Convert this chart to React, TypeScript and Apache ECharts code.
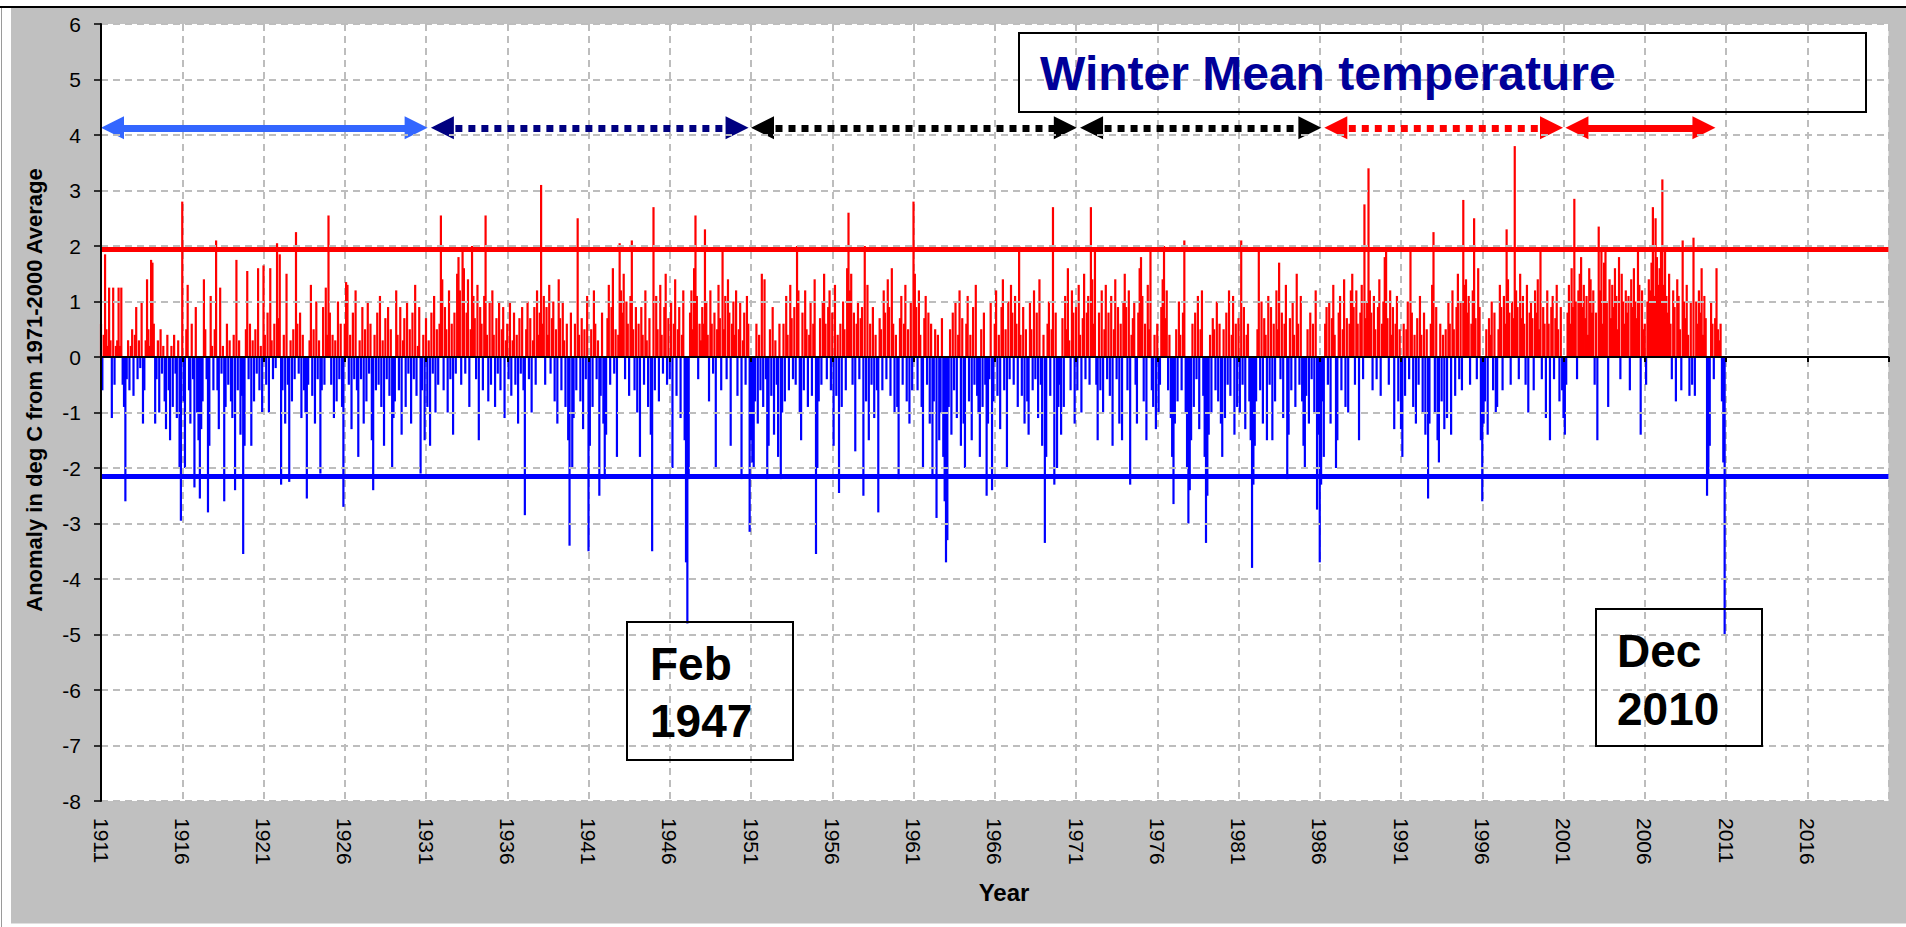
import React, { useEffect, useRef } from "react";
import * as echarts from "echarts";

// ---------- data (monthly anomalies, deg C, Jan..Dec per row) ----------
const START_YEAR = 1911;
const MONTHS_PER_YEAR = 12;

const d1911 = [
  0.6, -0.6, 0.4, 1.85, 0.5, 0.2, 1.25, 0.3, -1.1, 1.25, -0.5, 0.2,
  0.3, 1.25, 0.2, 1.25, -0.5, -0.9, -2.6, -0.4, 0.3, -0.6, 0.2, 0.5,
  -0.7, 0.4, 0.9, -0.4, 0.3, -0.2, 1.0, -1.2, -0.6, 0.3, 1.4, 0.5,
  0.2, 1.75, 1.7, 0.6, -1.2, -0.4, 0.3, -1.0, 0.5, -0.3, 0.2, -0.8,
  -1.3, 0.4, -0.6, -1.5, 0.2, -0.9, 0.4, -0.3, -1.1, 0.3, -2.0, -2.95,
  2.8, -0.8, -2.0, 0.5, 1.3, -0.6, -1.2, 0.6, -0.4, -2.35, 0.9, -1.0,
  -1.5, -2.55, -1.3, -0.8, 1.4, 0.5, -0.4, -2.8, -1.6, 1.1, 0.2, -0.6,
  0.5, 2.1, -0.6, -1.3, 1.25, -0.3, 0.2, -2.6, -0.9, 0.6, -0.5, 0.3,
  -0.8, -1.1, 0.4, -2.4, 1.75, -0.6, 0.3, -1.4, -0.7, -3.55, -1.6, 0.5,
  1.55, -0.4, 0.6, -1.6, 0.3, -0.8, 0.5, -0.3, 1.6, -0.6, 0.2, -1.0,
];
const d1921 = [
  1.65, 0.4, -0.5, 0.8, -1.0, 1.6, 0.3, -0.4, 0.6, -0.2, 2.05, 0.7,
  1.85, -2.3, -0.6, 0.4, -1.2, 1.5, -0.5, -2.25, 0.3, -0.8, 0.5, -0.4,
  2.25, 0.6, -0.3, 0.8, -1.1, 0.4, -0.6, -1.0, -2.55, -0.5, 0.3, 1.3,
  -0.7, 0.5, -1.2, 1.0, -0.4, 0.3, -2.1, -0.6, 0.9, -0.5, 1.25, 0.4,
  2.55, 0.8, -0.5, 0.4, -1.1, 0.3, -0.8, 1.0, -0.4, 0.6, -0.9, -2.7,
  0.6, 1.35, 1.3, -0.5, 0.4, -1.3, 0.8, -0.4, 1.2, -0.6, -1.8, 0.3,
  -0.4, 0.9, -1.2, 0.5, -0.8, 1.0, -0.3, 0.6, -1.5, -2.4, 0.4, -0.6,
  0.8, -0.5, 1.1, -0.9, 0.3, -1.6, 0.7, -0.4, 0.9, -0.7, 0.5, -2.0,
  -1.1, -0.8, 1.2, 0.4, -0.6, 0.9, -1.4, 0.3, 0.7, -0.9, 1.0, -0.3,
  0.5, -1.2, 0.8, -0.4, 1.3, -0.7, 0.2, 0.9, -2.1, -0.6, 0.4, -1.5,
];
const d1931 = [
  0.7, -0.9, 0.3, -1.6, 0.8, -0.3, 1.1, -1.0, 0.5, -0.5, 0.6, 2.55,
  1.4, -0.6, 0.9, 0.5, -1.0, 1.2, -0.4, 0.6, -1.4, 0.8, -0.3, 1.5,
  1.8, 1.2, -0.5, 1.9, 1.6, -0.3, 0.8, 1.4, -0.9, 0.5, 2.0, 1.1,
  0.7, -0.4, 1.3, -1.5, 0.9, 0.6, -0.6, 1.1, 2.55, 0.4, -0.8, 1.0,
  -0.5, 1.2, 0.4, -0.9, 0.7, -0.3, 1.0, -0.6, 0.5, 0.9, -1.1, 0.3,
  0.6, -0.4, 1.0, -0.7, 0.3, 0.8, -0.5, 0.4, -1.2, 0.7, -0.3, 0.9,
  -0.6, -2.85, 0.5, 1.0, -0.4, 0.7, -1.0, 0.3, 0.9, -0.5, 1.2, 0.4,
  0.8, 3.1, 0.6, 1.1, -0.5, 0.9, 0.4, 1.3, -0.3, 0.7, 1.0, -0.8,
  0.5, -1.2, 1.4, 0.7, -0.6, 1.0, 0.3, -0.9, 0.6, -1.5, -3.4, 0.8,
  -2.0, -1.1, 0.6, -0.6, 2.5, 0.4, -0.8, 0.7, -1.3, 0.5, -0.4, 1.1,
];
const d1941 = [
  -3.5, -1.6, 0.5, -0.9, 1.2, 0.6, -0.4, 0.3, -2.5, -0.7, 0.8, -1.2,
  -2.2, -1.4, 0.7, 1.3, -0.5, 0.9, 1.6, -0.3, 0.5, -1.8, 0.4, 2.05,
  1.2, 0.8, 1.5, -0.4, 1.0, 0.6, -0.7, 1.1, 2.1, 0.5, -0.6, 0.9,
  -1.0, 0.6, -1.8, 0.9, 0.4, -0.5, 1.2, 0.3, -0.9, 0.7, -1.4, -3.5,
  2.7, -0.6, 1.1, 0.5, -0.8, 1.3, 0.4, -0.3, 0.9, 1.5, -0.5, 0.7,
  -0.4, 1.0, -2.0, 0.6, 1.4, -0.7, 0.5, 0.9, -1.1, 0.4, 1.2, -1.5,
  -3.7, -4.8, -2.2, 0.8, 1.2, 0.5, 1.6, 2.55, 1.1, -0.4, 0.6, 0.3,
  0.9, 0.6, 2.3, 1.0, 0.4, -0.8, 1.2, 0.6, -0.3, 0.8, -2.0, 0.5,
  1.3, 0.7, -0.6, 1.9, 0.5, 1.1, -0.4, 1.4, 0.8, -1.6, 0.6, 1.0,
  0.4, 1.2, -0.7, 0.5, 1.0, -2.2, 0.3, 0.8, -0.5, 1.1, 0.6, -3.15,
];
const d1951 = [
  -1.5, -1.9, -2.0, -0.8, 0.6, -1.2, 0.4, -0.6, 1.5, -0.9, 1.4, -0.4,
  -2.2, -1.6, 0.5, -0.7, 0.9, -1.4, 0.3, -0.5, -1.8, 0.6, -2.2, -1.0,
  0.6, -0.8, 1.1, 0.4, -0.6, 1.3, 0.7, -0.4, 0.9, -0.5, 2.0, 1.2,
  -1.0, -1.5, 0.8, -0.6, 1.2, 0.5, -0.9, 0.4, 1.0, -0.7, 0.6, 1.4,
  -3.55, -2.0, -0.8, 0.7, -0.5, 1.0, 1.5, 0.6, -0.4, 0.9, 1.2, -0.6,
  0.8, -1.6, 1.3, -0.7, 0.4, -2.45, 0.6, -0.9, 1.0, 0.5, -0.6, 1.6,
  2.6, 1.2, 1.5, -0.5, 0.8, -1.7, 0.6, 1.0, -0.4, 0.7, 0.9, -2.5,
  2.0, -0.8, 1.3, -1.5, 0.6, -0.5, 0.9, -1.1, 0.4, -0.6, -2.8, 0.7,
  0.5, -0.6, 1.2, 0.8, -0.4, 1.4, 0.9, -0.7, 1.6, 0.6, -1.0, 0.4,
  -0.9, -2.2, 0.7, 1.1, -0.5, 0.6, 1.3, -0.8, 0.5, -1.2, 1.0, -0.6,
];
const d1961 = [
  2.8, 1.5, 0.9, -0.6, 1.2, 0.4, -0.9, -2.0, 0.7, 1.1, -0.5, 0.8,
  -1.2, 0.6, -2.2, -0.8, 0.5, -2.9, 0.4, -1.5, -1.0, 0.7, -1.8, -2.6,
  -3.7, -3.3, -0.9, 0.5, -1.4, 0.8, -0.6, 1.0, -1.1, 0.4, 1.2, -1.6,
  0.7, -1.2, -2.0, 0.6, 1.1, -0.8, 0.4, -1.5, 0.9, -0.5, 1.3, -0.7,
  -1.0, -1.8, 0.5, -0.9, 0.8, -0.5, -2.5, -1.2, -0.4, 1.0, -2.4, -0.8,
  0.6, 1.2, -0.7, 0.4, -1.3, 0.9, 1.4, -0.6, 0.5, -2.0, 1.0, -0.4,
  1.3, 0.8, -0.5, 1.1, 0.6, -0.9, 2.0, 0.4, -0.7, 0.9, -1.2, 0.5,
  -0.8, -1.4, 1.0, 0.5, -0.6, 1.2, -0.4, 0.8, -1.1, 1.4, -0.5, -1.6,
  0.4, -3.35, -1.8, 0.6, 1.0, -0.7, 0.5, 2.7, -2.3, 0.8, -2.0, -0.9,
  -0.5, -1.4, 0.7, -0.9, 1.1, 0.5, 1.6, 0.3, -0.6, 1.2, 0.8, -1.2,
];
const d1971 = [
  0.9, -0.6, 1.3, 0.4, -1.0, 0.7, 1.5, -0.4, 0.8, 1.1, -0.5, 2.7,
  1.4, 0.6, 1.9, -0.5, -1.5, 0.8, -0.6, 1.2, -1.0, 0.5, 1.3, -0.4,
  0.8, -0.7, 1.1, -1.6, 0.5, 1.4, -0.4, 0.9, -1.2, 0.6, -1.5, 1.0,
  1.5, 0.9, -0.6, 1.2, -2.3, 0.4, 0.7, 1.0, -0.5, -1.2, 0.8, 1.6,
  1.8, 1.1, -0.8, 0.6, -1.5, 1.3, 0.5, 1.9, -0.6, -0.9, 0.4, -1.3,
  0.6, -1.0, -0.5, 0.9, 1.4, 2.0, 0.7, 1.2, -0.6, 0.4, -1.1, -1.8,
  -2.65, -1.2, 0.5, -0.8, 1.0, 0.4, -0.6, 0.8, 2.1, -1.0, -2.0, -3.0,
  -2.4, -1.5, 0.6, -0.9, 0.8, -0.4, 1.1, -1.3, 0.5, 1.2, -0.7, -1.8,
  -3.35, -2.5, -1.4, 0.4, -1.0, 0.7, 0.5, -0.6, 1.0, -0.8, 0.6, -1.2,
  -1.8, 0.5, -1.1, 0.8, -0.5, 1.2, -0.7, 0.4, 1.1, -1.4, 0.6, -0.9,
];
const d1981 = [
  0.7, -1.0, 2.1, -0.5, 0.9, -1.3, 0.4, 0.6, -0.8, -1.5, -3.8, -2.3,
  -1.6, -0.8, 0.5, 2.0, -0.6, 1.0, -1.2, 0.7, 0.4, -1.5, 1.1, -0.5,
  0.9, -1.5, 0.6, -0.8, 1.2, 0.5, 1.7, -0.4, 0.8, -1.1, 0.6, 1.3,
  -2.2, -1.4, 0.7, -0.6, 1.0, 0.4, -0.9, 1.5, 0.6, -0.5, 1.1, -0.8,
  -1.6, -2.0, -0.7, 0.5, -1.2, 0.8, -0.4, 0.6, -1.0, 1.2, -2.75, -1.4,
  -3.7, -2.3, -0.8, -1.8, 0.6, 0.9, -0.5, 1.0, -1.2, 0.7, 1.3, 0.4,
  -2.0, -1.5, 0.8, 1.1, -0.6, 0.5, 1.4, -0.9, 0.7, -1.0, 0.6, 1.2,
  1.5, 0.9, -0.5, 1.2, 0.6, -1.5, 0.8, 1.3, -0.4, 2.75, 0.7, 1.0,
  3.4, 1.2, 0.8, -0.6, 1.1, 0.5, -0.4, 0.9, 1.4, -0.7, 0.6, 1.0,
  1.8, 2.0, 0.7, -0.5, 1.2, 0.4, 0.9, -1.3, 0.6, 1.1, -0.8, 0.5,
];
const d1991 = [
  -1.3, -1.8, 0.6, -0.7, 0.5, 1.0, -0.4, 2.0, 0.8, -0.9, 0.4, -1.2,
  0.7, -0.5, 1.1, 0.4, -1.0, 0.8, -1.4, 0.5, -2.55, -1.2, 0.6, 1.3,
  2.25, -1.0, 0.9, -1.5, -1.9, 0.6, -0.8, 0.4, -1.3, 0.5, -1.1, 1.0,
  0.6, -1.4, 1.2, 0.5, -0.7, 0.9, 1.5, -0.4, 1.0, -0.6, 2.83, 1.3,
  1.4, 0.8, 1.1, -0.5, 0.6, 1.2, 2.5, 0.7, -0.4, 1.6, 0.9, -1.5,
  -2.6, -1.2, -0.8, 0.5, -1.4, 0.7, 0.4, 1.0, -0.6, 0.8, -1.0, -0.9,
  0.5, 1.3, 0.9, -0.6, 1.1, 0.6, 2.3, 1.4, 0.8, -0.5, 1.0, 0.7,
  3.8, 1.2, 0.9, -0.4, 1.5, 0.7, 1.1, 0.6, -0.5, 1.3, -1.0, 0.8,
  1.0, 0.7, -0.6, 1.2, 0.8, 1.4, 0.5, 1.9, -0.4, 0.9, 0.6, -1.1,
  1.2, 0.6, -1.5, 0.9, 1.1, -0.4, 0.7, 1.3, 0.5, -0.8, 0.9, -0.6,
];
const d2001 = [
  -1.1, -1.4, -0.5, 0.8, 1.3, 0.6, 1.6, 0.9, 2.85, 1.0, -0.4, 1.2,
  1.5, 1.8, 0.9, 1.3, 0.7, 1.1, 0.4, 1.6, 1.4, 0.8, 1.2, -0.5,
  0.8, -1.5, 2.35, 1.2, 1.9, 0.6, 1.7, 2.0, 1.0, -0.9, 1.4, 0.7,
  1.3, 0.9, 1.6, 1.1, 0.5, 1.8, -0.4, 1.5, 1.0, 0.6, 1.2, 0.8,
  1.1, -0.6, 1.4, 0.9, 1.6, 1.0, 0.7, 1.9, 1.3, -1.4, 1.2, 0.5,
  0.6, -0.5, 1.0, 1.4, 1.2, 1.7, 2.7, 1.1, 2.5, 1.8, 1.3, 1.6,
  1.9, 3.2, 1.3, 2.0, 1.1, 0.8, 1.5, 0.6, -0.4, 1.2, 0.9, -0.8,
  1.4, 1.1, 0.5, -0.6, 2.1, 1.0, 0.7, 1.3, 0.4, -0.7, 1.0, -0.5,
  2.15, -0.7, 1.0, 0.6, 1.2, 0.8, 1.6, 0.4, 1.1, 0.7, -2.5, -2.2,
  -1.6, 1.0, 0.6, -0.4, 0.7, 1.6, 0.5, 0.3, 0.6, -0.8, -1.9, -5.0,
];

const UPPER_LIMIT = 1.95; // red reference line
const LOWER_LIMIT = -2.14; // blue reference line

const X_MIN = 1911;
const X_MAX = 2021;
const X_INTERVAL = 5;
const Y_MIN = -8;
const Y_MAX = 6;
const Y_INTERVAL = 1;

const ARROW_LEVEL = 4.13;
const PERIOD_ARROWS = [
  { from: 1911.0, to: 1931.1, color: "#3366ff", dotted: false },
  { from: 1931.3, to: 1950.85, color: "#000080", dotted: true },
  { from: 1951.0, to: 1971.05, color: "#000000", dotted: true },
  { from: 1971.25, to: 1986.1, color: "#000000", dotted: true },
  { from: 1986.28, to: 2000.97, color: "#ff0000", dotted: true },
  { from: 2001.12, to: 2010.35, color: "#ff0000", dotted: false },
];

// ---------- layout ----------
const W = 1906;
const H = 927;
const GRID = { left: 101, right: 17.5, top: 24, bottom: 126 };
const HEAD = 23;
const FONT = '"Liberation Sans", Arial, Helvetica, sans-serif';
const RED = "#ff0000";
const BLUE = "#0000ff";
const GRID_LINE = { color: "#bdbdbd", width: 2, type: [7, 5] as number[] };

export default function App() {
  const ref = useRef<HTMLDivElement>(null);

  useEffect(() => {
    if (!ref.current) return;
    const chart = echarts.init(ref.current, null, { renderer: "svg" });

    const values = [
      ...d1911, ...d1921, ...d1931, ...d1941, ...d1951,
      ...d1961, ...d1971, ...d1981, ...d1991, ...d2001,
    ];
    const barData = values.map((v, i) => ({
      value: [START_YEAR + i / MONTHS_PER_YEAR, v],
      itemStyle: { color: v >= 0 ? RED : BLUE },
    }));

    const pxPerYear = (W - GRID.left - GRID.right) / (X_MAX - X_MIN);
    const headOffset = HEAD / 2 / pxPerYear;

    const arrowLines = PERIOD_ARROWS.map((a) => [
      {
        coord: [a.from + headOffset, ARROW_LEVEL],
        symbol: "triangle",
        symbolSize: [HEAD, HEAD],
        lineStyle: {
          color: a.color,
          width: 7,
          type: a.dotted ? [7, 6] : "solid",
          cap: "butt",
          opacity: 1,
        },
      },
      {
        coord: [a.to - headOffset, ARROW_LEVEL],
        symbol: "triangle",
        symbolSize: [HEAD, HEAD],
      },
    ]);

    const textStyle = (
      text: string,
      size: number,
      color: string,
      align: string,
      weight = "bold"
    ) => ({
      text,
      fill: color,
      fontSize: size,
      fontWeight: weight,
      fontFamily: FONT,
      align,
      verticalAlign: "middle",
      textAlign: align,
      textVerticalAlign: "middle",
    });

    const boxStyle = { fill: "none", stroke: "#000", lineWidth: 2 };

    const option: any = {
      animation: false,
      backgroundColor: "#c0c0c0",
      grid: {
        left: GRID.left,
        right: GRID.right,
        top: GRID.top,
        bottom: GRID.bottom,
        show: true,
        backgroundColor: "#ffffff",
        borderWidth: 0,
        containLabel: false,
        outerBoundsMode: "none",
      },
      xAxis: [
        {
          type: "value",
          min: X_MIN,
          max: X_MAX,
          interval: X_INTERVAL,
          position: "bottom",
          axisLine: { show: false, onZero: false },
          axisTick: { show: false },
          axisLabel: {
            rotate: -90,
            margin: 17,
            color: "#000",
            fontSize: 21,
            fontFamily: FONT,
            showMaxLabel: false,
            formatter: (v: number) => String(v),
          },
          splitLine: { show: true, lineStyle: GRID_LINE },
        },
        {
          type: "value",
          min: X_MIN,
          max: X_MAX,
          interval: X_INTERVAL,
          position: "bottom",
          z: 6,
          axisLine: {
            show: true,
            onZero: true,
            lineStyle: { color: "#000", width: 2 },
          },
          axisTick: { show: true, length: 5, lineStyle: { color: "#000", width: 2 } },
          axisLabel: { show: false },
          splitLine: { show: false },
        },
      ],
      yAxis: {
        type: "value",
        min: Y_MIN,
        max: Y_MAX,
        interval: Y_INTERVAL,
        z: 6,
        axisLine: { show: true, onZero: false, lineStyle: { color: "#000", width: 2 } },
        axisTick: { show: true, length: 7, lineStyle: { color: "#000", width: 1.5 } },
        axisLabel: { color: "#000", fontSize: 21, fontFamily: FONT, margin: 20 },
        splitLine: { show: true, lineStyle: GRID_LINE },
      },
      series: [
        {
          type: "bar",
          xAxisIndex: 0,
          yAxisIndex: 0,
          barWidth: 2.2,
          data: barData,
          z: 2,
          markLine: {
            silent: true,
            animation: false,
            symbol: ["none", "none"],
            label: { show: false },
            emphasis: { disabled: true },
            data: [
              { yAxis: UPPER_LIMIT, lineStyle: { color: RED, width: 5, type: "solid" } },
              { yAxis: LOWER_LIMIT, lineStyle: { color: BLUE, width: 5, type: "solid" } },
              ...arrowLines,
            ],
          },
        },
      ],
      graphic: {
        elements: [
          // window frame
          { type: "rect", z: 50, shape: { x: 0, y: 0, width: 11, height: H }, style: { fill: "#ffffff" }, silent: true },
          { type: "rect", z: 50, shape: { x: 0, y: 0, width: W, height: 6 }, style: { fill: "#ffffff" }, silent: true },
          { type: "rect", z: 50, shape: { x: 0, y: 923, width: W, height: 4 }, style: { fill: "#ffffff" }, silent: true },
          { type: "line", z: 51, shape: { x1: 0, y1: 7, x2: W, y2: 7 }, style: { stroke: "#000", lineWidth: 2 }, silent: true },
          { type: "line", z: 51, shape: { x1: 1.5, y1: 8, x2: 1.5, y2: H }, style: { stroke: "#9a9a9a", lineWidth: 1 }, silent: true },
          { type: "line", z: 51, shape: { x1: 11, y1: 923.5, x2: W, y2: 923.5 }, style: { stroke: "#e0e0e0", lineWidth: 1 }, silent: true },
          // title box
          { type: "rect", z: 50, shape: { x: 1019, y: 33, width: 847, height: 79 }, style: boxStyle, silent: true },
          {
            type: "text",
            z: 51,
            x: 1040,
            y: 73.5,
            style: textStyle("Winter Mean temperature", 48, "#000099", "left"),
            silent: true,
          },
          // Feb 1947 box
          { type: "rect", z: 50, shape: { x: 627, y: 622, width: 166, height: 138 }, style: boxStyle, silent: true },
          { type: "text", z: 51, x: 650, y: 664, style: textStyle("Feb", 46, "#000", "left"), silent: true },
          { type: "text", z: 51, x: 650, y: 721, style: textStyle("1947", 46, "#000", "left"), silent: true },
          // Dec 2010 box
          { type: "rect", z: 50, shape: { x: 1596, y: 609, width: 166, height: 137 }, style: boxStyle, silent: true },
          { type: "text", z: 51, x: 1617, y: 651, style: textStyle("Dec", 46, "#000", "left"), silent: true },
          { type: "text", z: 51, x: 1617, y: 709, style: textStyle("2010", 46, "#000", "left"), silent: true },
          // axis titles
          {
            type: "text",
            z: 51,
            x: 34,
            y: 390,
            rotation: Math.PI / 2,
            style: textStyle("Anomaly in deg C from 1971-2000 Average", 22, "#000", "center"),
            silent: true,
          },
          { type: "text", z: 51, x: 1004, y: 892, style: textStyle("Year", 24, "#000", "center"), silent: true },
        ],
      },
    };

    chart.setOption(option);
    return () => chart.dispose();
  }, []);

  return (
    <div
      ref={ref}
      style={{ position: "fixed", left: 0, top: 0, width: W, height: H }}
    />
  );
}
